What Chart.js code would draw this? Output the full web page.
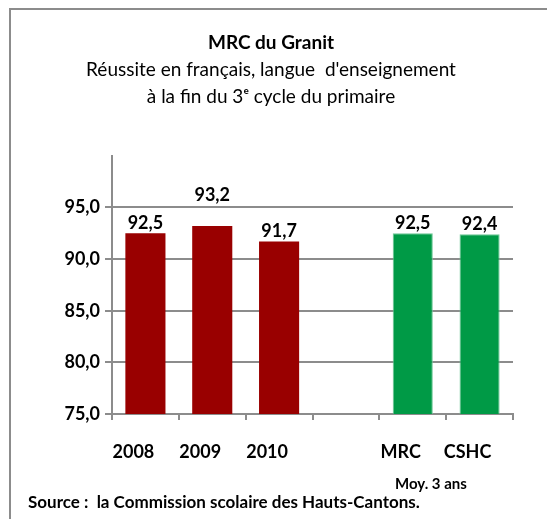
<!DOCTYPE html>
<html>
<head>
<meta charset="utf-8">
<script src="https://cdn.jsdelivr.net/npm/chart.js@4"></script>
<style>
  body { margin: 0; background: #fff; }
  #wrap { position: relative; width: 547px; height: 519px; overflow: hidden; }
  #frame { position: absolute; left: 9px; top: 8px; width: 600px; height: 600px;
           border-left: 2px solid #8c8c8c; border-top: 2px solid #8c8c8c; }
  canvas { position: absolute; left: 0; top: 0; }
  .note { position: absolute; font-family: Lato, "DejaVu Sans", sans-serif; font-weight: bold; color: #000; white-space: nowrap; }
</style>
</head>
<body>
<div id="wrap">
  <div id="frame"></div>
  <canvas id="chart" width="547" height="519"></canvas>
  <div class="note" style="left:395px; top:474px; font-size:15px;">Moy. 3 ans</div>
  <div class="note" style="left:28px; top:491px; font-size:17px;">Source :&nbsp; la Commission scolaire des Hauts-Cantons.</div>
</div>
<script>
const years = ["2008", "2009", "2010"];
const yearValues = [92.5, 93.2, 91.7];
const avgLabels = ["MRC", "CSHC"];
const avgValues = [92.5, 92.4];
const yTicks = [75, 80, 85, 90, 95];

const labels = [...years, "", ...avgLabels];
const yearData = [...yearValues, null, ...avgLabels.map(() => null)];
const avgData = [...years.map(() => null), null, ...avgValues];

const gridGray = "#8c8c8c";
const fontFamily = "Lato, 'DejaVu Sans', sans-serif";

// values above bars, written with a comma
const valueLabels = {
  id: "valueLabels",
  afterDatasetsDraw(chart, args, opts) {
    const { ctx } = chart;
    ctx.save();
    ctx.font = "bold 18px " + fontFamily;
    ctx.fillStyle = "#000";
    ctx.textAlign = "center";
    ctx.textBaseline = "bottom";
    chart.data.datasets.forEach((ds, di) => {
      chart.getDatasetMeta(di).data.forEach((bar, i) => {
        const v = ds.data[i];
        if (v == null) return;
        const lift = (opts.lift[di] && opts.lift[di][i]) || 0;
        ctx.fillText(v.toFixed(1).replace(".", ","), bar.x, bar.y - 1 - lift);
      });
    });
    ctx.restore();
  }
};

new Chart(document.getElementById("chart"), {
  type: "bar",
  data: {
    labels,
    datasets: [
      {
        label: "Année",
        data: yearData,
        backgroundColor: "#990000",
        grouped: false
      },
      {
        label: "Moy. 3 ans",
        data: avgData,
        backgroundColor: "#009a46",
        borderColor: "#6cc695",
        borderWidth: 1,
        grouped: false
      }
    ]
  },
  options: {
    responsive: false,
    animation: false,
    barPercentage: 0.6,
    categoryPercentage: 1,
    layout: { padding: { left: 29, right: 34, top: 0, bottom: 0 } },
    plugins: {
      legend: { display: false },
      tooltip: { enabled: false },
      title: {
        display: true,
        text: "MRC du Granit",
        color: "#000",
        font: { family: fontFamily, size: 19, weight: "bold", lineHeight: 1.2 },
        padding: { top: 31, bottom: 0 }
      },
      subtitle: {
        display: true,
        text: ["Réussite en français, langue  d'enseignement", "à la fin du 3ᵉ cycle du primaire"],
        color: "#000",
        font: { family: fontFamily, size: 19, weight: "normal", lineHeight: 1.42 },
        padding: { top: 3, bottom: 45 }
      },
      valueLabels: { lift: [[0, 21, 0]] }
    },
    scales: {
      x: {
        afterFit(scale) { scale.height = 105; },
        border: { color: gridGray, width: 2 },
        grid: { drawOnChartArea: false, color: gridGray, lineWidth: 2, tickLength: 6, offset: true },
        ticks: {
          color: "#000",
          padding: 21,
          labelOffset: -12,
          font: { family: fontFamily, size: 18, weight: "bold" }
        }
      },
      y: {
        min: 75,
        max: 100,
        afterFit(scale) { scale.width = 83; },
        afterBuildTicks(scale) {
          scale.ticks = [...yTicks, 100].map(v => ({ value: v }));
        },
        border: { color: gridGray, width: 2 },
        grid: {
          color: c => (c.tick && c.tick.value === 100 ? "rgba(0,0,0,0)" : gridGray),
          lineWidth: 2,
          tickLength: 7
        },
        ticks: {
          color: "#000",
          padding: 5,
          font: { family: fontFamily, size: 18, weight: "bold" },
          callback: v => (yTicks.includes(v) ? v.toFixed(1).replace(".", ",") : "")
        }
      }
    }
  },
  plugins: [valueLabels]
});
</script>
</body>
</html>
